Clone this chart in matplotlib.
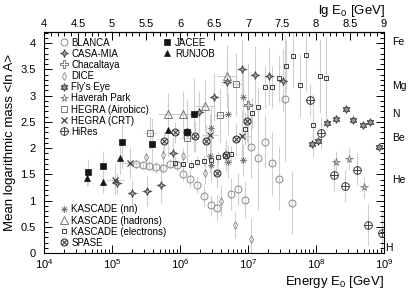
import numpy as np
import matplotlib.pyplot as plt
from matplotlib.path import Path
from matplotlib.lines import Line2D
from matplotlib.ticker import MultipleLocator, LogLocator, NullFormatter

plt.rcParams['font.family'] = 'Liberation Sans'
plt.rcParams['mathtext.fontset'] = 'custom'
plt.rcParams['mathtext.rm'] = 'Liberation Sans'
plt.rcParams['mathtext.it'] = 'Liberation Sans:italic'

# values: lg(E0/GeV), <ln A>, errors (ln A) and energy half-widths (decades)
blanca_lg = [5.35, 5.45, 5.55, 5.65, 5.75, 5.85, 5.95, 6.05, 6.15, 6.25, 6.35, 6.45, 6.55,
             6.75, 6.85, 6.95, 7.05, 7.15, 7.25, 7.35, 7.45, 7.55, 7.65]
blanca_lna = [1.70, 1.68, 1.66, 1.63, 1.62, 1.70, 1.67, 1.50, 1.41, 1.30, 1.08, 0.91, 0.86,
              1.12, 1.22, 1.01, 2.02, 1.81, 2.12, 1.71, 1.41, 2.93, 0.96]
blanca_err = [0.08, 0.08, 0.08, 0.1, 0.1, 0.1, 0.1, 0.12, 0.15, 0.15, 0.2, 0.2, 0.25,
              0.3, 0.3, 0.35, 0.6, 1.0, 0.5, 0.6, 0.6, 1.2, 0.6]

casa_lg = [5.08, 5.30, 5.51, 5.72, 5.90, 6.28, 6.50, 6.69, 6.91, 7.10, 7.31, 7.51]
casa_lna = [1.33, 1.14, 1.19, 1.30, 1.91, 2.69, 2.97, 3.26, 3.50, 3.39, 3.37, 3.28]
casa_err = [0.2, 0.25, 0.3, 0.35, 0.3, 0.4, 0.45, 0.5, 0.55, 0.55, 0.55, 0.6]

chac_lg = [7.00]
chac_lna = [2.82]
chac_err = [0.8]

dice_lg = [5.50, 5.75, 6.05, 6.37, 6.60, 6.81, 7.05]
dice_lna = [1.83, 1.87, 1.85, 1.52, 1.00, 0.53, 0.26]
dice_err = [0.1, 0.15, 0.15, 0.2, 0.3, 0.25, 0.4]

fly_lg = [7.94, 8.03, 8.16, 8.30, 8.44, 8.55, 8.69, 8.79, 8.93]
fly_lna = [2.07, 2.13, 2.47, 2.56, 2.75, 2.54, 2.44, 2.49, 2.02]
fly_err = [0.05] * 9

hav_lg = [8.30, 8.49, 8.70]
hav_lna = [1.74, 1.80, 1.25]
hav_err = [0.2, 0.2, 0.2]

airo_lg = [5.56, 6.10, 6.59, 6.83]
airo_lna = [2.29, 2.20, 2.62, 3.21]
airo_err = [0.3, 0.4, 0.5, 0.6]

crt_lg = [5.05, 5.27, 6.44, 6.91]
crt_lna = [1.40, 1.72, 2.25, 2.22]
crt_err = [0.3, 0.3, 0.4, 0.5]

hires_lg = [7.91, 8.08, 8.26, 8.43, 8.61, 8.76, 8.97]
hires_lna = [2.91, 2.29, 1.49, 1.28, 1.59, 0.53, 0.38]
hires_err = [0.3, 0.3, 0.3, 0.3, 0.3, 0.4, 0.4]

jacee_lg = [4.65, 4.87, 5.15, 5.59, 6.11, 6.21]
jacee_lna = [1.54, 1.65, 2.11, 2.07, 2.31, 2.64]
jacee_err = [0.25, 0.3, 0.5, 0.5, 0.6, 0.7]

runjob_lg = [4.63, 4.87, 5.12, 5.82]
runjob_lna = [1.42, 1.35, 1.81, 2.34]
runjob_err = [0.15, 0.2, 0.3, 0.5]

knn_lg = [6.45, 6.70, 6.93, 6.44, 6.70, 6.92, 6.46]
knn_lna = [2.39, 2.64, 2.98, 1.84, 1.73, 1.77, 1.68]
knn_err = [0.4, 0.4, 0.5, 0.3, 0.3, 0.3, 0.3]

khad_lg = [5.83, 6.05, 6.37, 6.69]
khad_lna = [2.64, 2.64, 2.80, 3.37]
khad_err = [0.4, 0.45, 0.5, 0.6]

kel_lg = [5.93, 6.05, 6.16, 6.25, 6.36, 6.46, 6.56, 6.66, 6.75, 6.96, 7.06, 7.15, 7.25, 7.36,
          7.45, 7.56, 7.66, 7.76, 7.85, 7.95, 8.06, 8.15]
kel_lna = [1.72, 1.69, 1.68, 1.74, 1.76, 1.78, 1.82, 1.85, 1.89, 2.36, 2.66, 2.79, 3.17, 3.17,
           3.33, 3.56, 3.75, 3.20, 3.78, 2.43, 3.37, 3.33]
kel_err = [0.1, 0.1, 0.1, 0.1, 0.1, 0.12, 0.12, 0.15, 0.15, 0.3, 0.3, 0.35, 0.4, 0.4,
           0.45, 0.5, 0.6, 0.6, 0.7, 0.6, 0.7, 0.8]

spase_lg = [5.77, 5.92, 6.10, 6.22, 6.38, 6.54, 6.67, 6.82, 6.99]
spase_lna = [2.13, 2.30, 2.31, 2.22, 2.14, 1.53, 1.87, 2.17, 2.52]
spase_err = [0.2, 0.2, 0.3, 0.3, 0.3, 0.3, 0.3, 0.3, 0.4]

elements = ['H', 'He', 'Be', 'N', 'Mg', 'Fe']
element_A = [1, 4, 9, 14, 24, 56]


def ring_with(segs):
    parts = [Path.unit_circle()] + [Path(s, [Path.MOVETO, Path.LINETO]) for s in segs]
    return Path.make_compound_path(*parts)


d = 0.7071
hires_mk = ring_with([[(-1, 0), (1, 0)], [(0, -1), (0, 1)]])
spase_mk = ring_with([[(-d, -d), (d, d)], [(-d, d), (d, -d)]])
star4 = Path([(0, 1), (0.28, 0.28), (1, 0), (0.28, -0.28), (0, -1), (-0.28, -0.28),
              (-1, 0), (-0.28, 0.28), (0, 1)])
snow = Path.make_compound_path(
    Path.circle((0, 0), 0.35),
    Path([(-1, 0), (1, 0)], [Path.MOVETO, Path.LINETO]),
    Path([(0, -1), (0, 1)], [Path.MOVETO, Path.LINETO]),
    Path([(-d, -d), (d, d)], [Path.MOVETO, Path.LINETO]),
    Path([(-d, d), (d, -d)], [Path.MOVETO, Path.LINETO]))

dk = '#404040'
styles = {
    'BLANCA': dict(marker='o', ms=5, mfc='none', mec='#8a8a8a', mew=0.7),
    'CASA-MIA': dict(marker=star4, ms=5.5, mfc='#aaaaaa', mec=dk, mew=0.7),
    'Chacaltaya': dict(marker='P', ms=5.5, mfc='none', mec='#777777', mew=0.7),
    'DICE': dict(marker='d', ms=4, mfc='none', mec='#8a8a8a', mew=0.6),
    "Fly's Eye": dict(marker=(6, 1, 0), ms=5.5, mfc='#9a9a9a', mec=dk, mew=0.7),
    'Haverah Park': dict(marker='*', ms=5.5, mfc='none', mec='#777777', mew=0.6),
    'HEGRA (Airobicc)': dict(marker='s', ms=5, mfc='none', mec='#777777', mew=0.7),
    'HEGRA (CRT)': dict(marker='x', ms=4.5, mfc='none', mec=dk, mew=0.9),
    'HiRes': dict(marker=hires_mk, ms=5.5, mfc='none', mec=dk, mew=0.7),
    'JACEE': dict(marker='s', ms=4.8, mfc='#151515', mec='#151515', mew=0.5),
    'RUNJOB': dict(marker='^', ms=4.8, mfc='#151515', mec='#151515', mew=0.5),
    'KASCADE (nn)': dict(marker=snow, ms=5, mfc='none', mec='#777777', mew=0.6),
    'KASCADE (hadrons)': dict(marker='^', ms=5.5, mfc='none', mec='#777777', mew=0.7),
    'KASCADE (electrons)': dict(marker='s', ms=3.5, mfc='none', mec=dk, mew=0.7),
    'SPASE': dict(marker=spase_mk, ms=5, mfc='none', mec=dk, mew=0.8),
}

fig = plt.figure(figsize=(4.09, 2.89), dpi=100)
ax = fig.add_axes([44 / 409, 36 / 289, 340 / 409, 221 / 289])


def series(name, lg, lna, err, xdec=None):
    x = 10 ** np.array(lg)
    xe = None
    if xdec is not None:
        xe = [x - x / 10 ** xdec, x * 10 ** xdec - x]
    ax.errorbar(x, lna, yerr=err, xerr=xe, fmt='none', ecolor='#cfcfcf',
                elinewidth=0.8, capsize=0, zorder=1)
    ax.plot(x, lna, ls='none', zorder=3, **styles[name])


series('BLANCA', blanca_lg, blanca_lna, blanca_err)
series('DICE', dice_lg, dice_lna, dice_err)
series('CASA-MIA', casa_lg, casa_lna, casa_err, 0.08)
series('Chacaltaya', chac_lg, chac_lna, chac_err, 0.1)
series("Fly's Eye", fly_lg, fly_lna, fly_err)
series('Haverah Park', hav_lg, hav_lna, hav_err)
series('HEGRA (Airobicc)', airo_lg, airo_lna, airo_err, 0.1)
series('HEGRA (CRT)', crt_lg, crt_lna, crt_err, 0.12)
series('HiRes', hires_lg, hires_lna, hires_err)
series('KASCADE (nn)', knn_lg, knn_lna, knn_err)
series('KASCADE (hadrons)', khad_lg, khad_lna, khad_err, 0.15)
series('KASCADE (electrons)', kel_lg, kel_lna, kel_err)
series('SPASE', spase_lg, spase_lna, spase_err)
series('JACEE', jacee_lg, jacee_lna, jacee_err)
series('RUNJOB', runjob_lg, runjob_lna, runjob_err)

ax.set_xscale('log')
ax.set_xlim(1e4, 1e9)
ax.set_ylim(0, 4.21)
ax.yaxis.set_minor_locator(MultipleLocator(0.1))
ax.set_yticks([0, 0.5, 1, 1.5, 2, 2.5, 3, 3.5, 4])
ax.set_yticklabels(['0', '0.5', '1', '1.5', '2', '2.5', '3', '3.5', '4'])
ax.xaxis.set_minor_locator(LogLocator(base=10, subs=np.arange(2, 10)))
ax.xaxis.set_minor_formatter(NullFormatter())
ax.tick_params(which='both', direction='in', right=True, labelsize=8, width=0.7)
ax.tick_params(which='major', length=6)
ax.tick_params(which='minor', length=3)
ax.tick_params(axis='x', pad=3)
ax.tick_params(axis='y', pad=6)
for s in ax.spines.values():
    s.set_linewidth(0.8)

top = ax.secondary_xaxis('top', functions=(np.log10, lambda v: 10 ** v))
top.set_xticks(np.arange(4, 9.01, 0.5))
top.set_xticklabels(['4', '4.5', '5', '5.5', '6', '6.5', '7', '7.5', '8', '8.5', '9'])
top.xaxis.set_minor_locator(MultipleLocator(0.1))
top.xaxis.set_minor_formatter(NullFormatter())
top.tick_params(which='both', direction='in', labelsize=8, width=0.7, pad=2)
top.tick_params(which='major', length=6)
top.tick_params(which='minor', length=3)

ax.set_ylabel('Mean logarithmic mass <ln A>', fontsize=9.5, labelpad=3)
fig.text(384 / 409, 1 - 285 / 289, 'Energy E$_0$ [GeV]', ha='right', va='baseline', fontsize=9.5)
fig.text(385 / 409, 1 - 14 / 289, 'lg E$_0$ [GeV]', ha='right', va='baseline', fontsize=9.5)

for el, a in zip(elements, element_A):
    ax.text(1.025 if el != 'H' else 1.004, np.log(a), el, transform=ax.get_yaxis_transform(),
            ha='left', va='center' if el != 'H' else 'bottom', fontsize=7.5)


def handles(names):
    return [Line2D([], [], ls='none', **styles[n]) for n in names]


leg_kw = dict(frameon=False, fontsize=7, handlelength=0.9, handletextpad=0.35,
              labelspacing=0.12, borderaxespad=0, borderpad=0)
n1 = ['BLANCA', 'CASA-MIA', 'Chacaltaya', 'DICE', "Fly's Eye", 'Haverah Park',
      'HEGRA (Airobicc)', 'HEGRA (CRT)', 'HiRes']
l1 = ax.legend(handles(n1), n1, loc='upper left', bbox_to_anchor=(0.045, 0.975), **leg_kw)
ax.add_artist(l1)
n2 = ['JACEE', 'RUNJOB']
l2 = ax.legend(handles(n2), n2, loc='upper left', bbox_to_anchor=(0.35, 0.975), **leg_kw)
ax.add_artist(l2)
n3 = ['KASCADE (nn)', 'KASCADE (hadrons)', 'KASCADE (electrons)', 'SPASE']
ax.legend(handles(n3), n3, loc='upper left', bbox_to_anchor=(0.045, 0.22), **leg_kw)

fig.savefig('out.png', dpi=100)
